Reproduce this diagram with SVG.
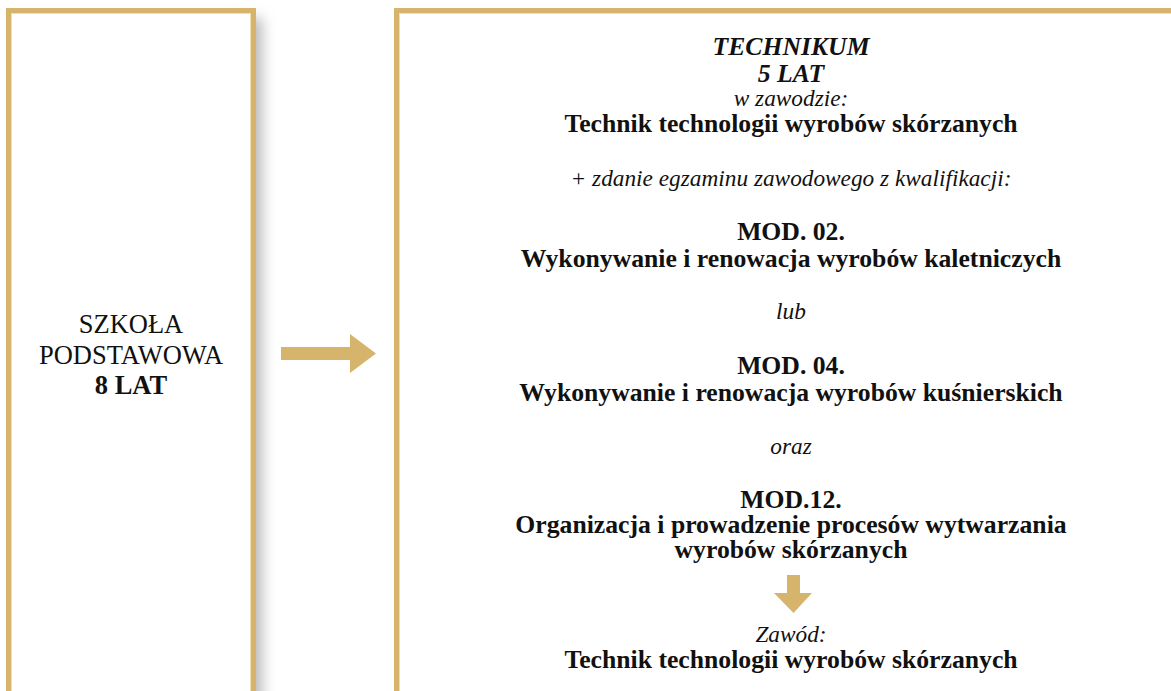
<svg xmlns="http://www.w3.org/2000/svg" width="1171" height="691" viewBox="0 0 1171 691">
  <defs>
    <filter id="blur" x="-100%" y="-10%" width="300%" height="120%">
      <feGaussianBlur stdDeviation="7"/>
    </filter>
  </defs>
  <style>
    .box { fill: #ffffff; stroke: #D7B46B; stroke-width: 5; }
    .inner { fill: none; stroke: #EEDFB8; stroke-width: 1; }
    .arrow { fill: #D7B46B; }
    text { font-family: "Liberation Serif", "Times New Roman", serif; fill: #111111; text-anchor: middle; }
    .b { font-weight: bold; font-size: 25.7px; }
    .i { font-style: italic; font-size: 23.3px; }
    .bi { font-weight: bold; font-style: italic; font-size: 25.7px; }
    .r { font-size: 26.5px; }
    .rb { font-weight: bold; font-size: 26.5px; }
  </style>
  <rect width="1171" height="691" fill="#ffffff"/>

  <g id="node-szkola">
    <rect x="234" y="18" width="28" height="720" fill="#b8b8b8" filter="url(#blur)"/>
    <rect class="box" x="8.5" y="10.5" width="245" height="700"/>
    <rect class="inner" x="11.5" y="13.5" width="239" height="700"/>
    <text class="r" x="131" y="333">SZKOŁA</text>
    <text class="r" x="131" y="364">PODSTAWOWA</text>
    <text class="rb" x="131" y="394">8 LAT</text>
  </g>

  <g id="node-technikum">
    <rect class="box" x="396.5" y="10.5" width="800" height="700"/>
    <rect class="inner" x="399.5" y="13.5" width="794" height="700"/>
    <text class="bi" x="791" y="55">TECHNIKUM</text>
    <text class="bi" x="791" y="82">5 LAT</text>
    <text class="i" x="791" y="106">w zawodzie:</text>
    <text class="b" x="791" y="132">Technik technologii wyrobów skórzanych</text>
    <text class="i" x="791" y="186">+ zdanie egzaminu zawodowego z kwalifikacji:</text>
    <text class="b" x="791" y="240">MOD. 02.</text>
    <text class="b" x="791" y="267">Wykonywanie i renowacja wyrobów kaletniczych</text>
    <text class="i" x="791" y="319">lub</text>
    <text class="b" x="791" y="374">MOD. 04.</text>
    <text class="b" x="791" y="401">Wykonywanie i renowacja wyrobów kuśnierskich</text>
    <text class="i" x="791" y="454">oraz</text>
    <text class="b" x="791" y="508">MOD.12.</text>
    <text class="b" x="791" y="533">Organizacja i prowadzenie procesów wytwarzania</text>
    <text class="b" x="791" y="558">wyrobów skórzanych</text>
    <text class="i" x="791" y="642">Zawód:</text>
    <text class="b" x="791" y="668">Technik technologii wyrobów skórzanych</text>
  </g>

  <g id="connectors">
    <polygon class="arrow" points="281,347 350,347 350,334 376,353.5 350,373 350,360 281,360"/>
    <polygon class="arrow" points="787,575 800,575 800,593 812,593 793.5,613 774,593 787,593"/>
  </g>
</svg>
